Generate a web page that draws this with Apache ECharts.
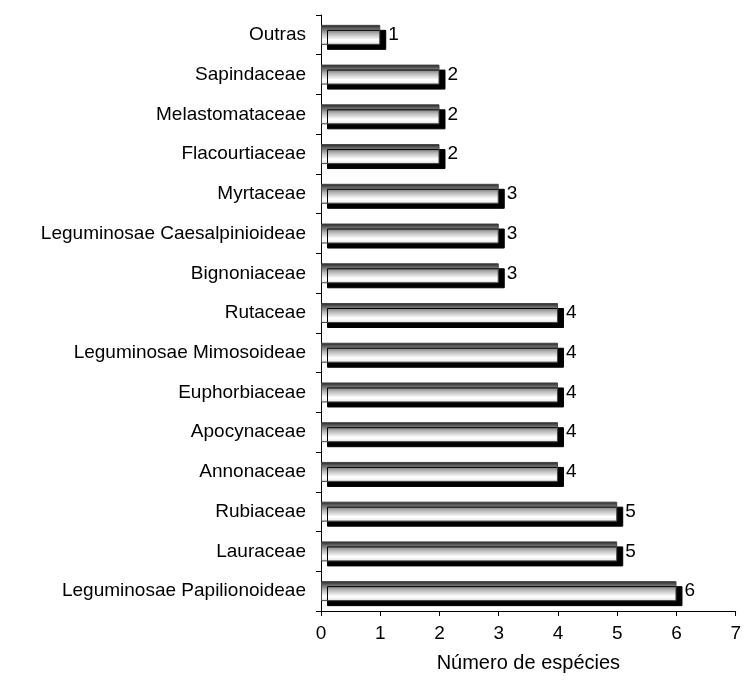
<!DOCTYPE html>
<html>
<head>
<meta charset="utf-8">
<script src="https://cdn.jsdelivr.net/npm/echarts@6/dist/echarts.min.js"></script>
<style>html,body{margin:0;padding:0;background:#fff;}#c{width:744px;height:691px;}</style>
</head>
<body>
<div id="c"></div>
<script>
// Categories listed bottom to top (ECharts category axis starts at the bottom)
var categories = [
  'Leguminosae Papilionoideae', 'Lauraceae', 'Rubiaceae', 'Annonaceae', 'Apocynaceae',
  'Euphorbiaceae', 'Leguminosae Mimosoideae', 'Rutaceae', 'Bignoniaceae',
  'Leguminosae Caesalpinioideae', 'Myrtaceae', 'Flacourtiaceae', 'Melastomataceae',
  'Sapindaceae', 'Outras'
];
var values = [6, 5, 5, 4, 4, 4, 4, 4, 3, 3, 3, 2, 2, 2, 1];
var xTicks = [0, 1, 2, 3, 4, 5, 6, 7];
var xAxisTitle = 'Número de espécies';

var FONT = 'Arial, "Liberation Sans", sans-serif';
var chart = echarts.init(document.getElementById('c'), null, {renderer: 'canvas'});
chart.setOption({
  animation: false,
  backgroundColor: '#fff',
  grid: {left: 321, right: 7, top: 15, bottom: 80, containLabel: false},
  xAxis: {
    type: 'value',
    min: xTicks[0],
    max: xTicks[xTicks.length - 1],
    interval: 1,
    name: xAxisTitle,
    nameLocation: 'middle',
    nameGap: 42,
    nameTextStyle: {fontFamily: FONT, fontSize: 20, color: '#000'},
    axisLine: {show: true, lineStyle: {color: '#000', width: 1}},
    axisTick: {show: true, length: 5, inside: false, lineStyle: {color: '#000'}},
    axisLabel: {fontFamily: FONT, fontSize: 19, color: '#000', margin: 13},
    splitLine: {show: false}
  },
  yAxis: {
    type: 'category',
    data: categories,
    boundaryGap: true,
    axisLine: {show: true, lineStyle: {color: '#000', width: 1}},
    axisTick: {show: true, length: 5, inside: false, alignWithLabel: false, lineStyle: {color: '#000'}},
    axisLabel: {fontFamily: FONT, fontSize: 19, color: '#000', margin: 15}
  },
  series: [{
    type: 'bar',
    data: values,
    barWidth: 20,
    itemStyle: {
      color: new echarts.graphic.LinearGradient(0, 0, 0, 1, [
        {offset: 0, color: '#1a1a1a'},
        {offset: 0.15, color: '#5a5a5a'},
        {offset: 0.45, color: '#b8b8b8'},
        {offset: 0.75, color: '#ffffff'},
        {offset: 0.9, color: '#f2f2f2'},
        {offset: 1, color: '#bdbdbd'}
      ]),
      borderColor: '#444',
      borderWidth: 1,
      shadowColor: '#000',
      shadowBlur: 0,
      shadowOffsetX: 6,
      shadowOffsetY: 5
    },
    label: {
      show: true,
      position: 'right',
      distance: 8,
      fontFamily: FONT,
      fontSize: 19,
      color: '#000'
    }
  }]
});
</script>
</body>
</html>
